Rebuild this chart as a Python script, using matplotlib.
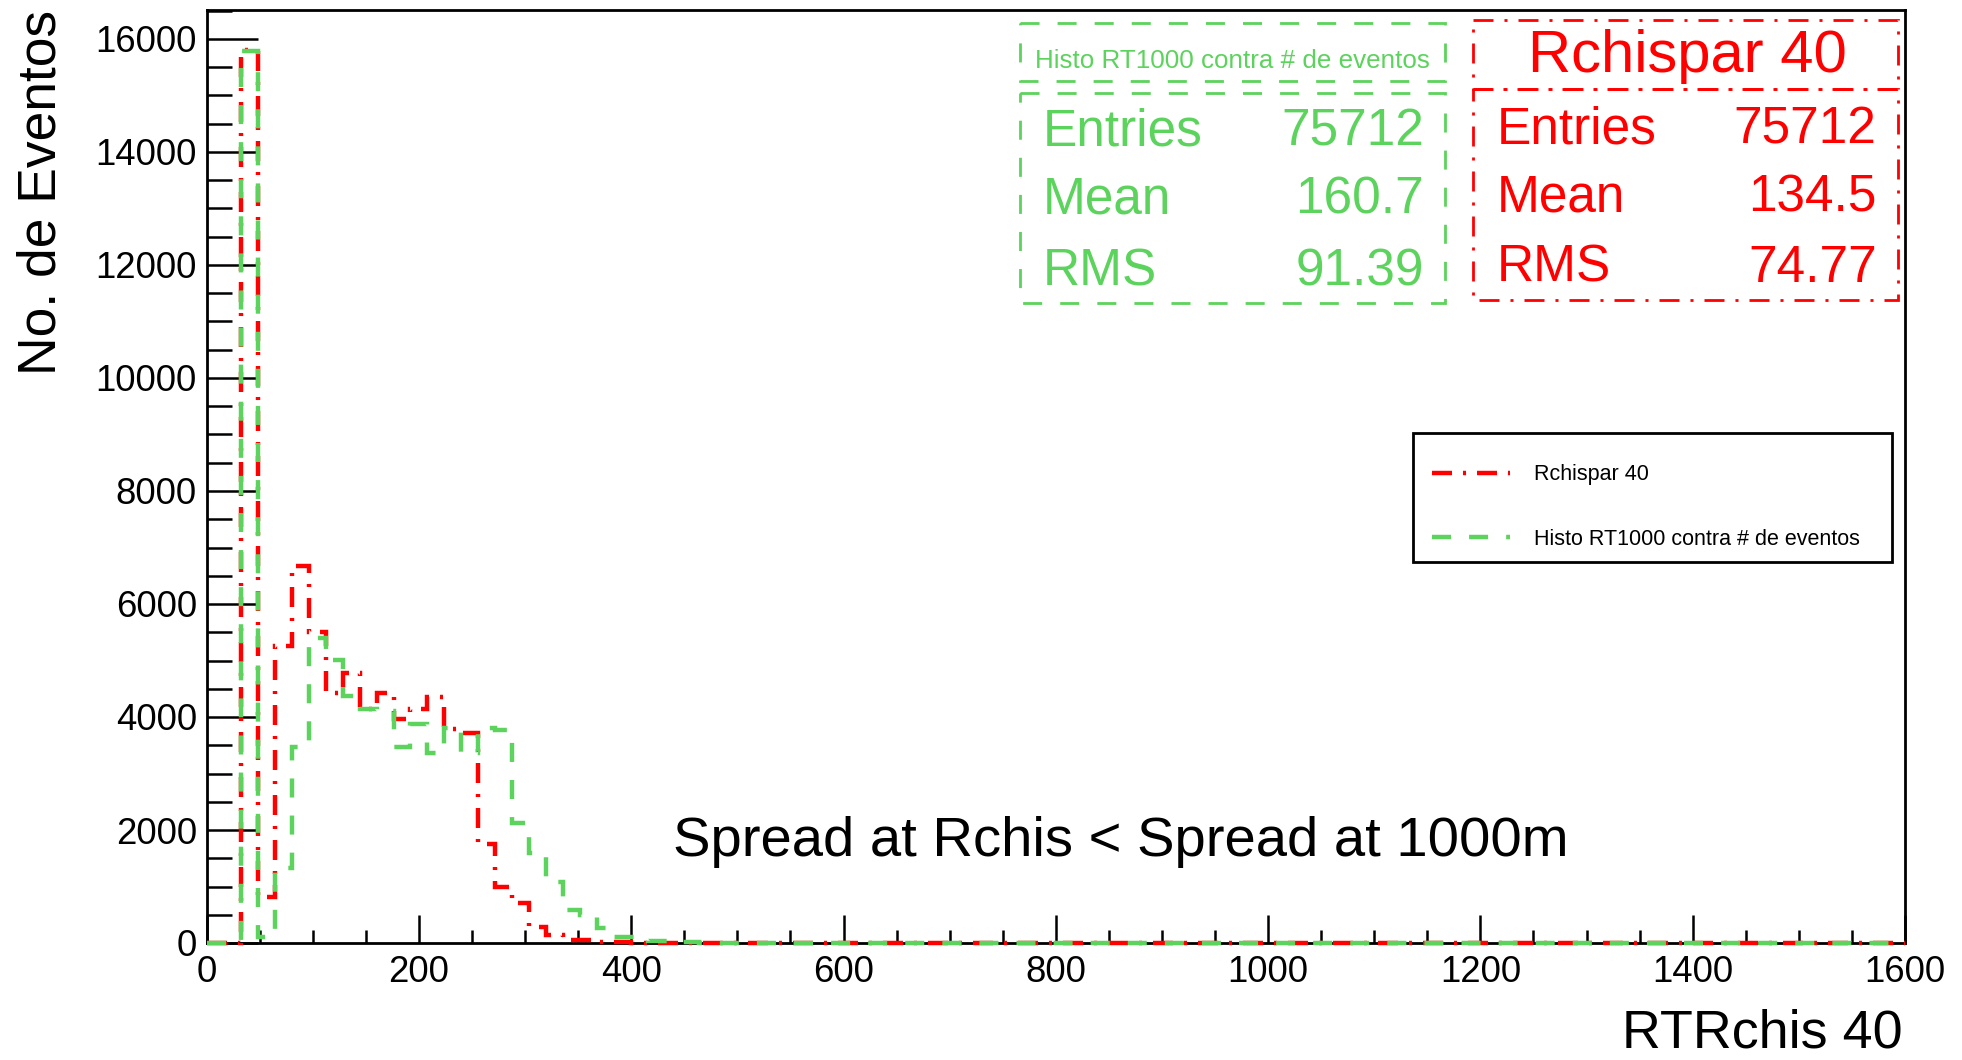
import numpy as np
import matplotlib.pyplot as plt
from matplotlib.patches import Rectangle
from matplotlib.transforms import Affine2D
from matplotlib.ticker import MultipleLocator

plt.rcParams['font.family'] = ['Liberation Sans', 'DejaVu Sans']
plt.rcParams['lines.scale_dashes'] = False

# histogram binning: 100 bins of width 16 from 0 to 1600
nbins, xmin, xmax = 100, 0, 1600
edges = np.linspace(xmin, xmax, nbins + 1)

# bin contents
rchis_counts = [
    0, 0, 15800, 820, 5250, 6680, 5510, 4420, 4785, 4150,
    4430, 3960, 4140, 4360, 3790, 3720, 1760, 1000, 700, 290,
    150, 50, 45, 20, 10, 5, 0, 0, 0, 0,
    0, 0, 0, 0, 0, 0, 0, 0, 0, 0,
    0, 0, 0, 0, 0, 0, 0, 0, 0, 0,
    0, 0, 0, 0, 0, 0, 0, 0, 0, 0,
    0, 0, 0, 0, 0, 0, 0, 0, 0, 0,
    0, 0, 0, 0, 0, 0, 0, 0, 0, 0,
    0, 0, 0, 0, 0, 0, 0, 0, 0, 0,
    0, 0, 0, 0, 0, 0, 0, 0, 0, 0,
]
rt1000_counts = [
    0, 0, 15780, 110, 1320, 3475, 5390, 5010, 4370, 4150,
    4110, 3470, 3880, 3360, 3800, 3360, 3800, 3770, 2120, 1590,
    1085, 580, 496, 260, 112, 112, 41, 41, 10, 5,
    0, 0, 0, 0, 0, 0, 0, 0, 0, 0,
    0, 0, 0, 0, 0, 0, 0, 0, 0, 0,
    0, 0, 0, 0, 0, 0, 0, 0, 0, 0,
    0, 0, 0, 0, 0, 0, 0, 0, 0, 0,
    0, 0, 0, 0, 0, 0, 0, 0, 0, 0,
    0, 0, 0, 0, 0, 0, 0, 0, 0, 0,
    0, 0, 0, 0, 0, 0, 0, 0, 0, 0,
]

red_name = "Rchispar 40"
green_name = "Histo RT1000 contra # de eventos"
stat_labels = ["Entries", "Mean", "RMS"]
red_stats = ["75712", "134.5", "74.77"]
green_stats = ["75712", "160.7", "91.39"]

RED = "#ff0000"
GREEN = "#5cd35c"
dashdot = (0, (14.4, 7.9, 2.2, 7.9))
dashed = (0, (13.7, 13.0))

W, H = 1962, 1060
fig = plt.figure(figsize=(W / 100, H / 100), dpi=100)
# pixel coords, origin top-left
px = Affine2D().scale(1 / W, -1 / H).translate(0, 1) + fig.transFigure

ymax = 16520
x0, x1, y0 = 206.7, 1905, 943
y1 = y0 - ymax * 0.0565
ax = fig.add_axes([x0 / W, 1 - y0 / H, (x1 - x0) / W, (y0 - y1) / H])

ax.stairs(rchis_counts, edges, color=RED, lw=3.2, ls=dashdot,
          label=red_name, clip_on=False, zorder=3)
ax.stairs(rt1000_counts, edges, color=GREEN, lw=3.2, ls=dashed,
          label=green_name, clip_on=False, zorder=3)

ax.set_xlim(xmin, xmax)
ax.set_ylim(0, ymax)
ax.xaxis.set_major_locator(MultipleLocator(200))
ax.xaxis.set_minor_locator(MultipleLocator(50))
ax.yaxis.set_major_locator(MultipleLocator(2000))
ax.yaxis.set_minor_locator(MultipleLocator(500))
ax.tick_params(axis='x', which='major', direction='in', length=20, width=1.8,
               labelsize=26.3, pad=8.5)
ax.tick_params(axis='x', which='minor', direction='in', length=9.4, width=1.8)
ax.tick_params(axis='y', which='major', direction='in', length=36.7, width=1.8,
               labelsize=26.3, pad=7)
ax.tick_params(axis='y', which='minor', direction='in', length=18, width=1.8)
for s in ax.spines.values():
    s.set_linewidth(2)

# legend entries without frame, the box is drawn separately
leg = ax.legend(loc='upper left', bbox_to_anchor=(1413.3, 445.5), bbox_transform=px,
                fontsize=15.5, frameon=False, borderpad=0.88, labelspacing=2.02,
                handlelength=3.63, handletextpad=1.08, borderaxespad=0)
fig.add_artist(Rectangle((1413.3, 433.3), 478.4, 128.4, transform=px, fill=False,
                         edgecolor='black', lw=2))

# axis titles and note
fig.text(17, 10, "No. de Eventos", transform=px, rotation=90, fontsize=38.4,
         ha='left', va='top')
fig.text(1903, 1048, "RTRchis 40", transform=px, fontsize=38.8,
         ha='right', va='baseline')
fig.text(673, 856, "Spread at Rchis < Spread at 1000m", transform=px, fontsize=40.5,
         ha='left', va='baseline')


def box(xa, ya, xb, yb, color, ls):
    fig.add_artist(Rectangle((xa, ya), xb - xa, yb - ya, transform=px, fill=False,
                             edgecolor=color, lw=2, ls=ls))


# stat boxes (green one on the left, red one on the right)
box(1019.7, 22.7, 1445.3, 81, GREEN, dashed)
box(1019.7, 92.7, 1445.3, 302.7, GREEN, dashed)
fig.text(1232.5, 68.3, green_name, transform=px, fontsize=18.7, color=GREEN,
         ha='center', va='baseline')
for lab, val, yb in zip(stat_labels, green_stats, [145.7, 213.3, 285]):
    fig.text(1043, yb, lab, transform=px, fontsize=37, color=GREEN, va='baseline')
    fig.text(1424, yb, val, transform=px, fontsize=37, color=GREEN, ha='right',
             va='baseline')

box(1473.3, 20, 1898.3, 89.3, RED, dashdot)
box(1473.3, 89.3, 1898.3, 300, RED, dashdot)
fig.text(1687.5, 71.7, red_name, transform=px, fontsize=43, color=RED,
         ha='center', va='baseline')
for lab, val, yb in zip(stat_labels, red_stats, [143.3, 211.7, 281.7]):
    fig.text(1496.7, yb, lab, transform=px, fontsize=37, color=RED, va='baseline')
    fig.text(1876.7, yb, val, transform=px, fontsize=37, color=RED, ha='right',
             va='baseline')

fig.savefig("out.png", dpi=100)
